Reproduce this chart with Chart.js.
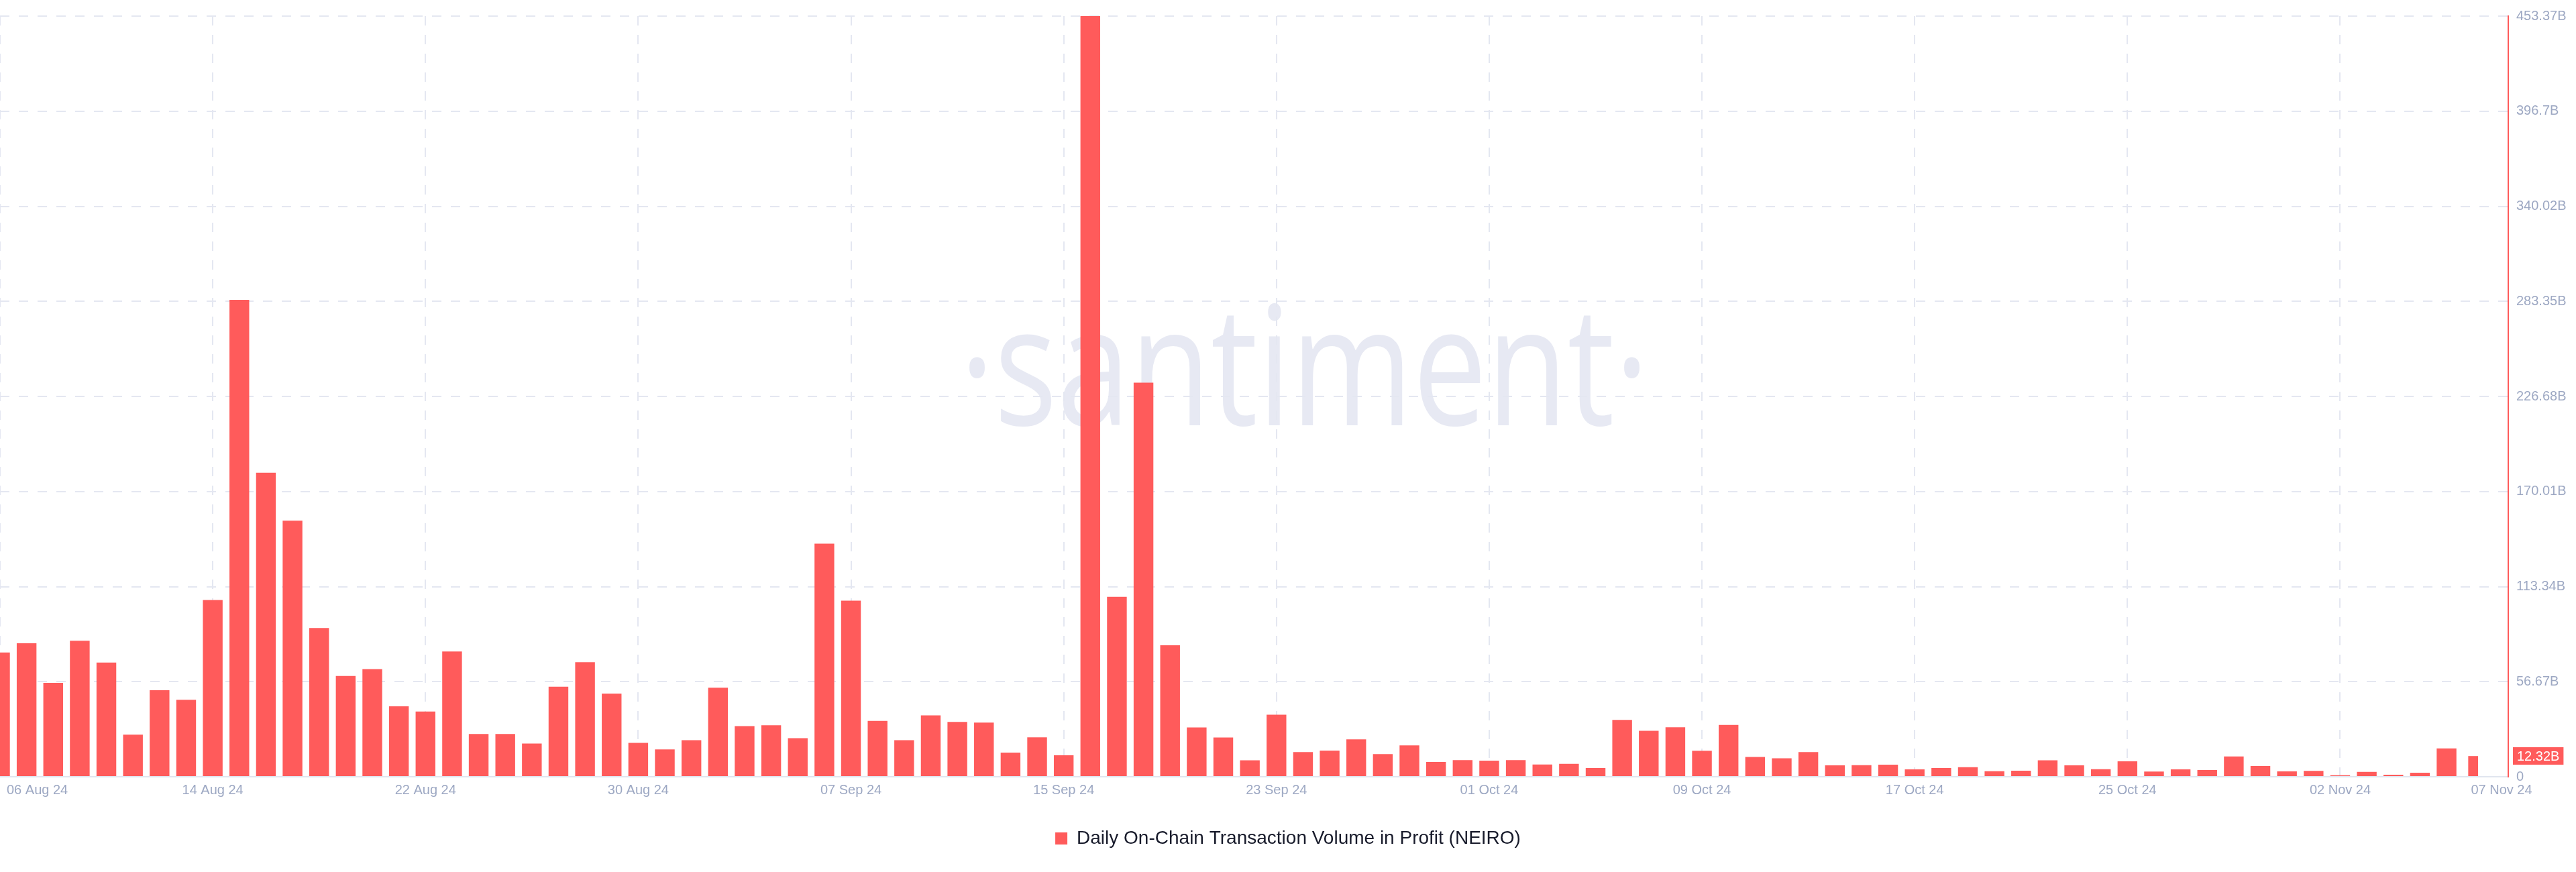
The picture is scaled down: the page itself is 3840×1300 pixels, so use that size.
<!DOCTYPE html>
<html>
<head>
<meta charset="utf-8">
<script src="https://cdn.jsdelivr.net/npm/chart.js@4.4.1/dist/chart.umd.min.js"></script>
<style>
  html, body { margin: 0; padding: 0; background: #ffffff; }
  #wrap { width: 3840px; height: 1300px; position: relative; }
  canvas { display: block; }
</style>
</head>
<body>
<div id="wrap"><canvas id="chart" width="3840" height="1300"></canvas></div>
<script>
// ---------------- data ----------------
const seriesName = 'Daily On-Chain Transaction Volume in Profit (NEIRO)';
const firstDay = { year: 2024, month: 7, day: 6 }; // 06 Aug 24 (month is 0-based)

// daily volume in profit, in billions (06 Aug 24 .. 07 Nov 24)
const volumeB = [
  74.1, 79.6, 56.0, 81.1, 68.1, 25.1, 51.6, 45.9, 105.3, 284.3,
  181.2, 152.6, 88.7, 60.1, 64.2, 42.0, 38.9, 74.7, 25.5, 25.5,
  19.8, 53.7, 68.3, 49.6, 20.2, 16.3, 21.8, 53.1, 30.2, 30.7,
  23.0, 138.9, 104.9, 33.3, 21.8, 36.6, 32.7, 32.3, 14.4, 23.5,
  12.8, 453.366, 107.2, 234.9, 78.4, 29.4, 23.4, 9.8, 37.0, 14.7,
  15.6, 22.3, 13.5, 18.7, 8.8, 9.9, 9.6, 9.9, 7.3, 7.7,
  5.2, 33.9, 27.4, 29.5, 15.5, 30.9, 11.8, 11.0, 14.7, 6.8,
  6.9, 7.2, 4.4, 5.2, 5.7, 3.3, 3.6, 9.8, 6.8, 4.5,
  9.2, 3.1, 4.4, 4.0, 12.1, 6.4, 3.2, 3.5, 0.9, 2.9,
  1.2, 2.4, 16.9, 12.32
];

const xTickLabels = [
  '06 Aug 24', '14 Aug 24', '22 Aug 24', '30 Aug 24', '07 Sep 24', '15 Sep 24',
  '23 Sep 24', '01 Oct 24', '09 Oct 24', '17 Oct 24', '25 Oct 24', '02 Nov 24', '07 Nov 24'
];
const yTickLabels = ['0', '56.67B', '113.34B', '170.01B', '226.68B', '283.35B', '340.02B', '396.7B', '453.37B'];
const yMaxB = 453.366;

// ---------------- derived ----------------
const MONTHS = ['Jan','Feb','Mar','Apr','May','Jun','Jul','Aug','Sep','Oct','Nov','Dec'];
const dates = volumeB.map((_, i) => {
  const d = new Date(Date.UTC(firstDay.year, firstDay.month, firstDay.day + i));
  return String(d.getUTCDate()).padStart(2, '0') + ' ' + MONTHS[d.getUTCMonth()] + ' ' + String(d.getUTCFullYear()).slice(2);
});
const xTickIdx = xTickLabels.map(l => dates.indexOf(l));
const lastIdx = volumeB.length - 1;
const fmtB = v => (v === 0 ? '0' : (+v.toFixed(2)) + 'B');
const lastValueLabel = fmtB(volumeB[lastIdx]);

// ---------------- style ----------------
const RED = '#ff5b5b';
const GRID = '#e4e7f1';
const TICK = '#9da8c3';
const FONT = "'Liberation Sans', Arial, Helvetica, sans-serif";

const watermark = {
  id: 'watermark',
  beforeDraw(chart) {
    const ctx = chart.ctx;
    ctx.save();
    ctx.font = "247px 'Open Sans', 'DejaVu Sans', sans-serif";
    ctx.fillStyle = '#e7e9f3';
    ctx.textAlign = 'left';
    ctx.textBaseline = 'alphabetic';
    const txt = '\u00B7santiment\u00B7';
    const m = ctx.measureText(txt);
    const ink = m.actualBoundingBoxLeft + m.actualBoundingBoxRight;
    const sx = 999 / ink;
    ctx.translate(1445, 634);
    ctx.scale(sx, 1);
    ctx.fillText(txt, m.actualBoundingBoxLeft, 0);
    ctx.restore();
  }
};

const edgeLabels = {
  id: 'edgeLabels',
  beforeDraw(chart) {
    const xs = chart.scales.x;
    const items = xs.getLabelItems();
    if (!items || !items.length) return;
    const first = items[0].options;
    first.textAlign = 'left';
    first.translation[0] = chart.chartArea.left + 10;
    const last = items[items.length - 1].options;
    last.textAlign = 'center';
    last.translation[0] = chart.chartArea.right - 10;
  }
};

const lastBadge = {
  id: 'lastBadge',
  afterDraw(chart) {
    const ys = chart.scales.y;
    const y = ys.getPixelForValue(volumeB[lastIdx]);
    const ctx = chart.ctx;
    ctx.save();
    ctx.font = '20px ' + FONT;
    const w = ctx.measureText(lastValueLabel).width + 12;
    const x = chart.chartArea.right + 7;
    ctx.fillStyle = RED;
    ctx.fillRect(x, Math.round(y - 13), w, 26);
    ctx.fillStyle = '#ffffff';
    ctx.textAlign = 'left';
    ctx.textBaseline = 'middle';
    ctx.fillText(lastValueLabel, x + 6, y + 1);
    ctx.restore();
  }
};

const mainData = volumeB.slice(0, lastIdx).map((v, i) => ({ x: i, y: v }));
const partialData = [{ x: lastIdx, y: volumeB[lastIdx] }];

const chart = new Chart(document.getElementById('chart'), {
  type: 'bar',
  data: {
    datasets: [
      { label: seriesName, data: mainData, backgroundColor: RED, borderWidth: 0,
        grouped: false, barPercentage: 0.742, categoryPercentage: 1 },
      { label: seriesName + ' (partial day)', data: partialData, backgroundColor: RED, borderWidth: 0,
        grouped: false, barPercentage: 0.37, categoryPercentage: 1 }
    ]
  },
  options: {
    responsive: false,
    animation: false,
    devicePixelRatio: 1,
    layout: { padding: { top: 15, left: 0, right: 0, bottom: 26 } },
    plugins: {
      legend: {
        position: 'bottom',
        labels: {
          boxWidth: 18, boxHeight: 18, padding: 10,
          color: '#181b2b',
          font: { family: FONT, size: 28 },
          filter: item => item.datasetIndex === 0
        }
      },
      tooltip: { enabled: false }
    },
    scales: {
      x: {
        type: 'linear', position: 'bottom',
        min: 0, max: lastIdx + 1.32, offset: false,
        afterBuildTicks: s => { s.ticks = xTickIdx.map(v => ({ value: v })); },
        afterFit: s => { s.height = 68; s.paddingLeft = 0; s.paddingRight = 0; },
        ticks: {
          autoSkip: false, maxRotation: 0, minRotation: 0, padding: 8,
          color: TICK, font: { family: FONT, size: 20 },
          callback: (v, i) => xTickLabels[i]
        },
        grid: {
          offset: false,
          color: c => (c.index === xTickIdx.length - 1 ? 'rgba(0,0,0,0)' : GRID),
          lineWidth: 2, drawTicks: false
        },
        border: { display: true, color: '#e1e5ef', width: 2, dash: [14, 14] }
      },
      y: {
        position: 'right',
        min: 0, max: yMaxB,
        afterBuildTicks: s => { s.ticks = yTickLabels.map((_, i) => ({ value: yMaxB * i / (yTickLabels.length - 1) })); },
        afterFit: s => { s.width = 101; },
        ticks: {
          padding: 12, color: TICK, font: { family: FONT, size: 20 },
          callback: (v, i) => yTickLabels[i]
        },
        grid: { color: GRID, lineWidth: 2, drawTicks: false },
        border: { display: true, color: RED, width: 2, dash: [14, 14] }
      }
    }
  },
  plugins: [watermark, edgeLabels, lastBadge]
});

if (document.fonts && document.fonts.ready) {
  document.fonts.ready.then(() => chart.draw());
}
</script>
</body>
</html>
